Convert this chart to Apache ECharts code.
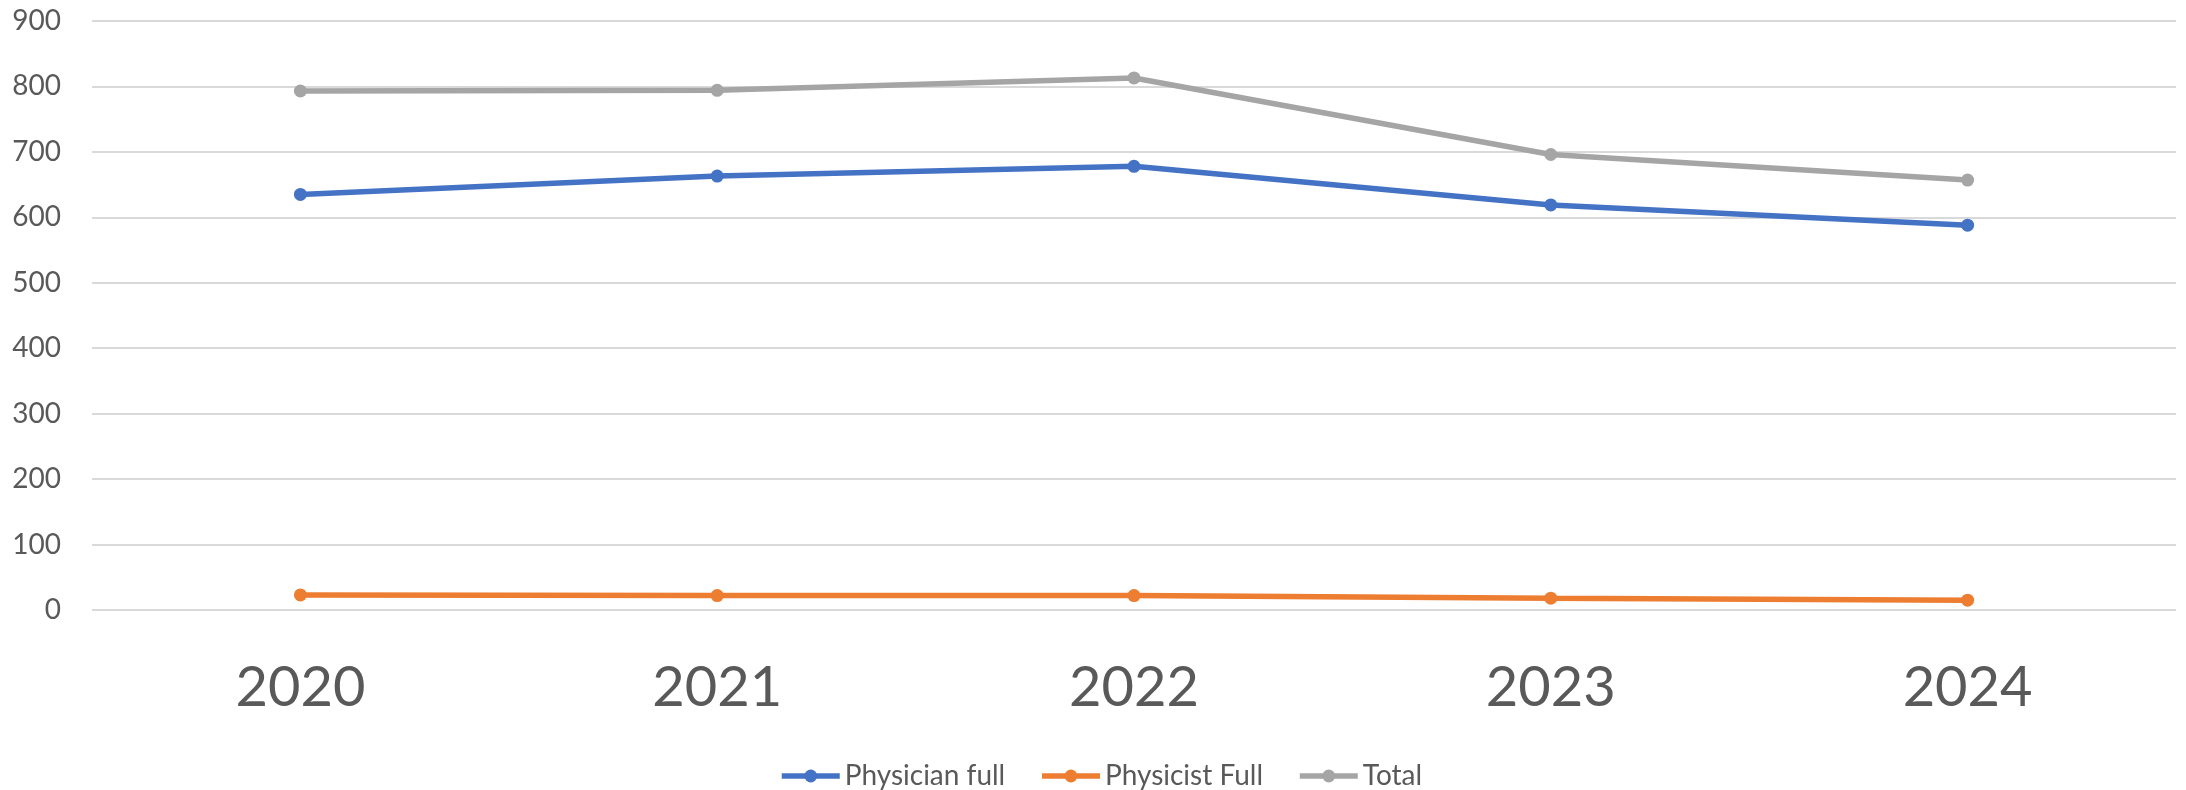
<!DOCTYPE html>
<html>
<head>
<meta charset="utf-8">
<script src="https://cdn.jsdelivr.net/npm/echarts@6/dist/echarts.min.js"></script>
<style>
	html, body { margin: 0; padding: 0; background: #fff; }
	#chart { width: 2186px; height: 790px; }
</style>
</head>
<body>
<div id="chart"></div>
<script>
	// 数据
	var years = ['2020', '2021', '2022', '2023', '2024'];
	var physicianFull = [635, 663, 678, 619, 588];
	var physicistFull = [23, 22, 22, 18, 15];
	var total = [793, 794, 813, 696, 657];
	var yTicks = [0, 100, 200, 300, 400, 500, 600, 700, 800, 900];

	var fontName = 'Lato, "Open Sans", sans-serif';
	var textColor = '#595959';

	function lineSeries(name, data, color) {
		return {
			name : name,
			type : 'line',
			data : data,
			symbol : 'circle',
			symbolSize : 13,
			lineStyle : { width : 5.5, color : color },
			itemStyle : { color : color },
			emphasis : { disabled : true }
		};
	}

	var myChart = echarts.init(document.getElementById('chart'));
	myChart.setOption({
		animation : false,
		grid : {
			left : 92,
			right : 10,
			top : 21,
			bottom : 180,
			containLabel : false
		},
		legend : {
			left : 774,
			top : 757,
			itemWidth : 58,
			itemHeight : 16,
			itemGap : 34,
			lineStyle : { width : 5.5 },
			textStyle : { fontFamily : fontName, fontSize : 28, color : textColor },
			data : [ 'Physician full', 'Physicist Full', 'Total' ]
		},
		xAxis : {
			type : 'category',
			data : years,
			boundaryGap : true,
			axisLine : { show : false },
			axisTick : { show : false },
			axisLabel : {
				margin : 50,
				fontFamily : fontName,
				fontSize : 56,
				color : textColor
			}
		},
		yAxis : {
			type : 'value',
			min : yTicks[0],
			max : yTicks[yTicks.length - 1],
			interval : 100,
			axisLine : { show : false },
			axisTick : { show : false },
			axisLabel : {
				margin : 31,
				fontFamily : fontName,
				fontSize : 28,
				color : textColor
			},
			splitLine : { lineStyle : { color : '#D9D9D9', width : 2 } }
		},
		series : [
			lineSeries('Physician full', physicianFull, '#4472C4'),
			lineSeries('Physicist Full', physicistFull, '#ED7D31'),
			lineSeries('Total', total, '#A5A5A5')
		]
	});
</script>
</body>
</html>
